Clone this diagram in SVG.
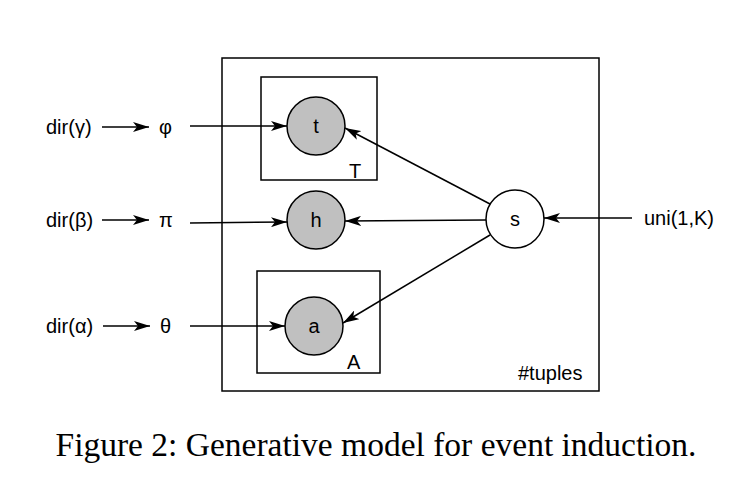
<svg xmlns="http://www.w3.org/2000/svg" width="738" height="478" viewBox="0 0 738 478">
<defs>
<marker id="ah2" viewBox="0 0 16 10" refX="16" refY="5" markerWidth="16" markerHeight="10" markerUnits="userSpaceOnUse" orient="auto">
<path d="M0,0 L16,5 L0,10 L4,5 Z" fill="#000"/>
</marker>
<style>
.plate{fill:none;stroke:#000;stroke-width:1.5}
.obs{fill:#c0c0c0;stroke:#000;stroke-width:1.5}
.lat{fill:#fff;stroke:#000;stroke-width:1.5}
.lbl{font-family:"Liberation Sans",Arial,sans-serif;font-size:20px;fill:#000}
.edge{stroke:#000;stroke-width:1.5;fill:none;marker-end:url(#ah2)}
.cap{font-family:"Liberation Serif","Times New Roman",serif;font-size:33.5px;fill:#000}
</style>
</defs>
<rect width="738" height="478" fill="#fff"/>
<g id="plate-tuples"><rect class="plate" x="222" y="58" width="377" height="333"/><text class="lbl" x="518" y="380">#tuples</text></g>
<g id="plate-T"><rect class="plate" x="261" y="77" width="116" height="103"/><text class="lbl" x="349" y="178">T</text></g>
<g id="plate-A"><rect class="plate" x="257" y="271" width="123" height="102"/><text class="lbl" x="347" y="369">A</text></g>
<g id="node-t"><circle class="obs" cx="316" cy="126" r="29"/><text class="lbl" x="316" y="133" text-anchor="middle">t</text></g>
<g id="node-h"><circle class="obs" cx="316" cy="220" r="29"/><text class="lbl" x="316" y="227" text-anchor="middle">h</text></g>
<g id="node-a"><circle class="obs" cx="314" cy="326" r="29"/><text class="lbl" x="314" y="333" text-anchor="middle">a</text></g>
<g id="node-s"><circle class="lat" cx="515" cy="219" r="29"/><text class="lbl" x="515" y="226" text-anchor="middle">s</text></g>
<g id="node-dir-gamma"><text class="lbl" x="46" y="134">dir(γ)</text></g>
<g id="node-phi"><text class="lbl" x="159" y="134">φ</text></g>
<g id="node-dir-beta"><text class="lbl" x="46" y="227">dir(β)</text></g>
<g id="node-pi"><text class="lbl" x="159" y="227">π</text></g>
<g id="node-dir-alpha"><text class="lbl" x="46" y="333">dir(α)</text></g>
<g id="node-theta"><text class="lbl" x="160" y="333">θ</text></g>
<g id="node-uni"><text class="lbl" x="644" y="225">uni(1,K)</text></g>
<g id="connectors">
<line class="edge" x1="102" y1="127" x2="149" y2="127"/>
<line class="edge" x1="102" y1="220" x2="149" y2="220"/>
<line class="edge" x1="103" y1="326" x2="150" y2="326"/>
<line class="edge" x1="190" y1="126" x2="287" y2="126"/>
<line class="edge" x1="190" y1="223" x2="287" y2="222"/>
<line class="edge" x1="190" y1="326" x2="285" y2="326"/>
<line class="edge" x1="632" y1="218" x2="544" y2="218"/>
<line class="edge" x1="490" y1="204" x2="345" y2="128"/>
<line class="edge" x1="486" y1="220" x2="345" y2="221"/>
<line class="edge" x1="490" y1="235" x2="343" y2="323"/>
</g>
<text class="cap" x="376" y="456" text-anchor="middle">Figure 2: Generative model for event induction.</text>
</svg>
